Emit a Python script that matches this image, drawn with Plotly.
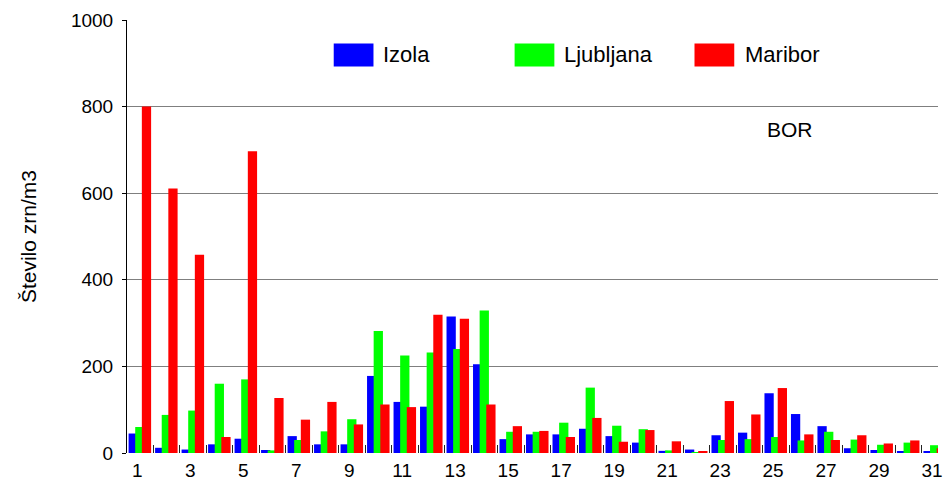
import plotly.graph_objects as go

# Daily pollen counts (BOR) per station
days = list(range(1, 32))
izola = [45, 12, 8, 20, 33, 7, 39, 20, 20, 178, 118, 107, 315, 205, 32, 43,
         43, 56, 39, 24, 5, 8, 41, 47, 138, 90, 62, 11, 7, 3, 4]
ljubljana = [60, 88, 98, 160, 170, 6, 30, 50, 78, 282, 225, 232, 240, 329, 49, 49,
             70, 151, 63, 55, 6, 2, 30, 32, 37, 29, 49, 31, 19, 24, 18]
maribor = [800, 611, 458, 37, 697, 127, 77, 118, 66, 112, 106, 319, 310, 112, 62, 51,
           37, 81, 26, 53, 27, 4, 120, 89, 150, 43, 30, 41, 22, 29, 11]

series_names = ["Izola", "Ljubljana", "Maribor"]
series_values = [izola, ljubljana, maribor]
colors = ["#0000FF", "#00FF00", "#FF0000"]
tick_days = list(range(1, 32, 2))
tick_labels = [str(d) for d in tick_days]
day_bounds = [d + 0.5 for d in days]

W, H = 943, 481
ML, MR, MT, MB = 127, 0, 20, 27
FONT = "Liberation Sans, Arial, sans-serif"
X_RANGE = [0.5, 31.11]

fig = go.Figure()

# overlapping bars within each day
offsets = [-0.44, -0.19, 0.06]
for name, vals, col, off in zip(series_names, series_values, colors, offsets):
    fig.add_trace(go.Bar(
        x=days, y=vals, name=name, marker=dict(color=col, line=dict(width=0)),
        width=0.35, offset=off, showlegend=False,
    ))


def px_x(p):
    return (p - ML) / (W - ML - MR)


def px_y(p):
    return (H - MB - p) / (H - MT - MB)


# legend drawn as swatches + labels
legend_items = [(335, 383), (517, 565), (698, 747)]
shapes = []
annotations = []
for (sx, tx), name, col in zip(legend_items, series_names, colors):
    shapes.append(dict(type="rect", xref="paper", yref="paper",
                       x0=px_x(sx), x1=px_x(sx + 40), y0=px_y(66.5), y1=px_y(43.5),
                       fillcolor=col, line=dict(width=0)))
    annotations.append(dict(xref="paper", yref="paper", x=px_x(tx), y=px_y(55),
                            text=name, showarrow=False, xanchor="left", yanchor="middle",
                            font=dict(size=22, color="black", family=FONT)))

annotations.append(dict(xref="paper", yref="paper", x=px_x(794), y=px_y(130),
                        text="BOR", showarrow=False, xanchor="center", yanchor="middle",
                        font=dict(size=21, color="black", family=FONT)))
annotations.append(dict(xref="paper", yref="paper", x=px_x(28), y=0.5,
                        text="Število zrn/m3", showarrow=False, textangle=-90,
                        xanchor="center", yanchor="middle",
                        font=dict(size=21, color="black", family=FONT)))

fig.update_layout(
    width=W, height=H,
    margin=dict(l=ML, r=MR, t=MT, b=MB, pad=0),
    paper_bgcolor="white", plot_bgcolor="white",
    barmode="overlay",
    font=dict(family=FONT, color="black", size=19),
    shapes=shapes, annotations=annotations,
    xaxis=dict(
        range=X_RANGE, tickmode="array", tickvals=tick_days, ticktext=tick_labels,
        ticks="", showgrid=False, zeroline=False, showline=False,
        ticklabelshift=-3, ticklabelstandoff=4, ticklabeloverflow="allow",
        tickfont=dict(size=19, family=FONT, color="black"),
    ),
    # separate axis carrying the day-boundary tick marks
    xaxis2=dict(
        overlaying="x", side="bottom", range=X_RANGE,
        tickmode="array", tickvals=day_bounds, showticklabels=False,
        ticks="inside", ticklen=8, tickcolor="#222", tickwidth=1,
        showgrid=False, zeroline=False, showline=False,
    ),
    yaxis=dict(
        range=[0, 1000], tickmode="array", tickvals=[0, 200, 400, 600, 800, 1000],
        ticks="outside", ticklen=4, tickcolor="black",
        showgrid=True, gridcolor="#7f7f7f", gridwidth=1,
        zeroline=False, showline=True, linecolor="black", linewidth=1,
        ticklabelstandoff=5,
        tickfont=dict(size=19, family=FONT, color="black"),
    ),
)

# invisible trace so the boundary-tick axis is rendered
fig.add_trace(go.Scatter(x=[X_RANGE[0]], y=[0], xaxis="x2", mode="markers",
                         marker=dict(opacity=0), showlegend=False, hoverinfo="skip"))

fig.write_html("out.html")
